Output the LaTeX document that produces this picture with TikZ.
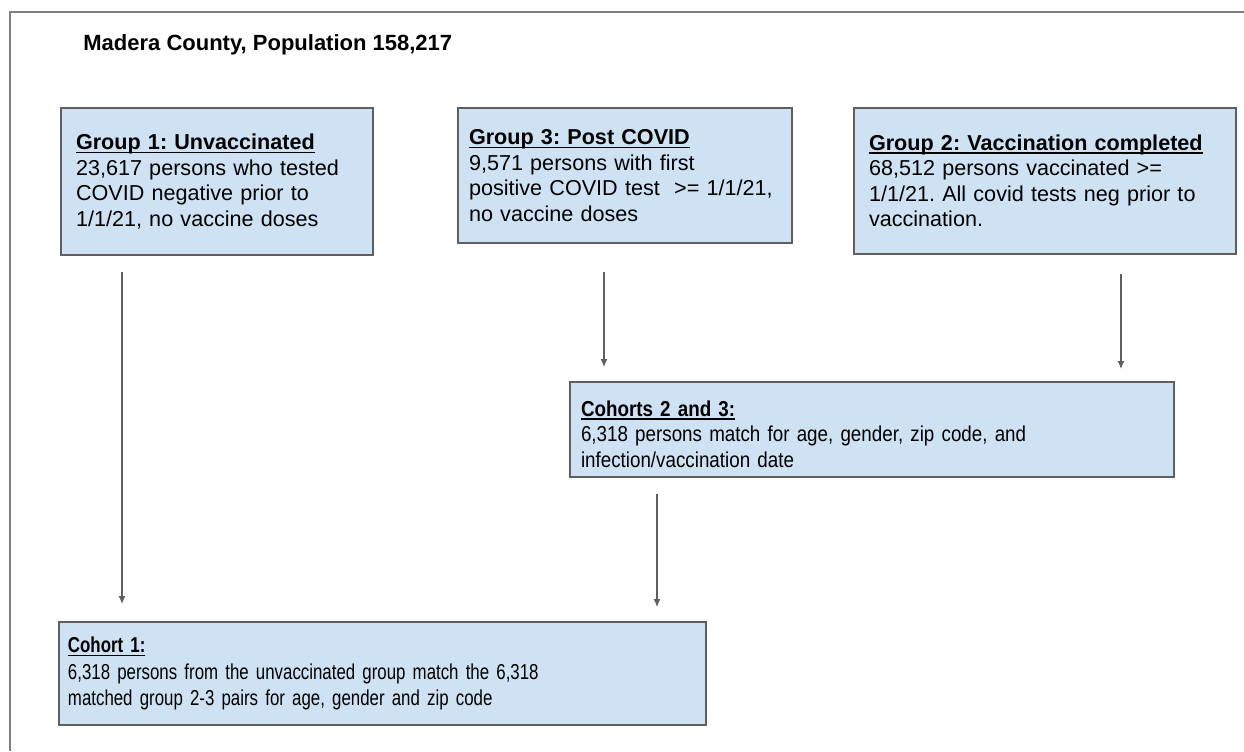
\documentclass[tikz,border=0pt]{standalone}
\usepackage{fontspec}
\setmainfont{Liberation Sans}
\newfontfamily\narrowA[FakeStretch=0.87]{Liberation Sans}
\newfontfamily\narrowB[FakeStretch=0.78]{Liberation Sans}
\usepackage{xcolor}
\usetikzlibrary{arrows.meta}

\definecolor{boxblue}{RGB}{207,226,243}
\definecolor{edgegray}{RGB}{95,95,95}
\definecolor{framegray}{RGB}{128,128,128}

\tikzset{
  box/.style = {draw = edgegray, line width = 1pt, fill = boxblue, anchor = north west,
    align = left, inner xsep = 7.5pt, inner ysep = 0pt,
    font = \fontsize{10.8}{12.75}\selectfont\frenchspacing},
  arr/.style = {draw = edgegray, line width = 0.6pt, -{Latex[length=4pt,width=3.5pt]}}
}
\newcommand{\boxhead}[1]{\setbox0\hbox{\bfseries #1}\rlap{\rule[-1.6pt]{\wd0}{0.6pt}}\box0}

\begin{document}
\begin{tikzpicture}[x=0.5pt,y=-0.5pt]
\useasboundingbox (0,0) rectangle (1244,751);
\draw[framegray, line width = 1pt] (10,751) -- (10,12) -- (1244,12);

\node[anchor = base west, inner sep = 0pt, font = \fontsize{11}{13}\selectfont\bfseries] (title) at (83,50) {Madera County, Population 158,217};

\node[box, text width = 141pt, minimum height = 73.5pt] (g1) at (60,107)
  {\boxhead{Group 1: Unvaccinated}\\23,617 persons who tested\\COVID negative prior to\\1/1/21, no vaccine doses};
\node[box, inner xsep = 5.5pt, text width = 156pt, minimum height = 67.5pt] (g3) at (457,107)
  {\boxhead{Group 3: Post COVID}\\9,571 persons with first\\positive COVID test \ >= 1/1/21,\\no vaccine doses};
\node[box, text width = 176pt, minimum height = 73pt] (g2) at (853,107)
  {\boxhead{Group 2: Vaccination completed}\\68,512 persons vaccinated >=\\1/1/21. All covid tests neg prior to\\vaccination.\\[10pt]};

\node[box, inner xsep = 5.5pt, text width = 291pt, minimum height = 47.5pt,
  font = \fontsize{10.8}{12.75}\narrowA\frenchspacing] (c23) at (569,381)
  {\rule{0pt}{12.5pt}\boxhead{Cohorts 2 and 3:}\\6,318 persons match for age, gender, zip code, and\\infection/vaccination date};
\node[box, inner xsep = 4.5pt, text width = 314.5pt, minimum height = 51.5pt,
  font = \fontsize{10.8}{13.25}\narrowB\frenchspacing] (c1) at (58,621)
  {\boxhead{Cohort 1:}\\6,318 persons from the unvaccinated group match the 6,318\\matched group 2-3 pairs for age, gender and zip code};

% arrow columns
\coordinate (colA) at (122,0);
\coordinate (colB) at (604,0);
\coordinate (colC) at (1121,0);
\coordinate (colD) at (657,0);

\draw[arr, shorten <= 8pt, shorten >= 8.5pt] (g1.south -| colA) -- (c1.north -| colA);
\draw[arr, shorten <= 14pt, shorten >= 7pt] (g3.south -| colB) -- (c23.north -| colB);
\draw[arr, shorten <= 9.5pt, shorten >= 6pt] (g2.south -| colC) -- (c23.north -| colC);
\draw[arr, shorten <= 8pt, shorten >= 7pt] (c23.south -| colD) -- (c1.north -| colD);
\end{tikzpicture}
\end{document}
